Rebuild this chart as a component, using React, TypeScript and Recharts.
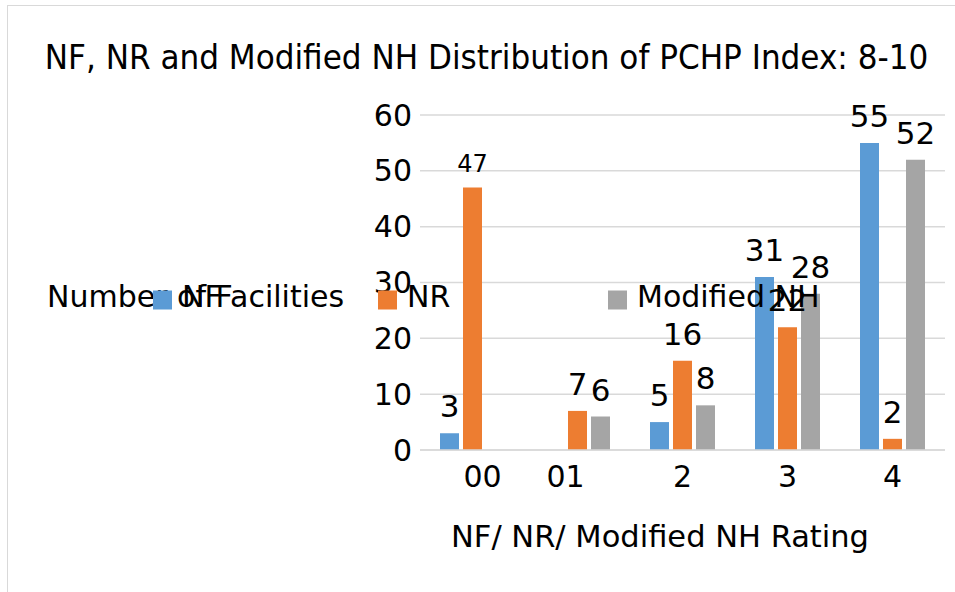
import React from "react";
import { BarChart, Bar, XAxis, YAxis, CartesianGrid, LabelList } from "recharts";

const title = "NF, NR and Modified NH Distribution of PCHP Index: 8-10";
const yAxisTitle = "Number of Facilities";
const xAxisTitle = "NF/ NR/ Modified NH Rating";
const categories = ["0", "1", "2", "3", "4"];
const tickLabels = ["00", "01", "2", "3", "4"];
const yTicks = [0, 10, 20, 30, 40, 50, 60];
const seriesNames = ["NF", "NR", "Modified NH"];
const nfValues = [3, null, 5, 31, 55];
const nrValues = [47, 7, 16, 22, 2];
const modNhValues = [null, 6, 8, 28, 52];

const COLORS = ["#5B9BD5", "#ED7D31", "#A5A5A5"];
const FONT = "'DejaVu Sans', sans-serif";
const TITLE_FONT = "'DejaVu Sans Condensed', 'DejaVu Sans', sans-serif";

const data = categories.map((c, i) => ({
  cat: c,
  tick: tickLabels[i],
  NF: nfValues[i],
  NR: nrValues[i],
  MNH: modNhValues[i],
}));

const TICK_DX = [10, -12, 0, 0, 0];

const XTick = (props: any) => {
  const { x, y, index } = props;
  return (
    <text
      x={x + (TICK_DX[index] || 0)}
      y={y + 29}
      textAnchor="middle"
      fontFamily={FONT}
      fontSize={30}
      fill="#000"
    >
      {tickLabels[index]}
    </text>
  );
};

const makeLabel = (seriesIdx: number) => (props: any) => {
  const { x, y, width, value, index } = props;
  if (value === null || value === undefined) return null;
  const small = seriesIdx === 1 && index === 0;
  return (
    <text
      x={Number(x) + Number(width) / 2}
      y={Number(y) - 16}
      textAnchor="middle"
      fontFamily={FONT}
      fontSize={small ? 24 : 31}
      fill="#000"
    >
      {value}
    </text>
  );
};

const legendX = [153, 378, 608];

export default function App() {
  return (
    <div
      style={{
        position: "absolute",
        left: 0,
        top: 0,
        width: 955,
        height: 592,
        overflow: "hidden",
        background: "#fff",
      }}
    >
      <div
        style={{
          position: "absolute",
          left: 7,
          top: 5,
          width: 948,
          height: 587,
          boxSizing: "border-box",
          borderTop: "1.5px solid #d9d9d9",
          borderLeft: "1.5px solid #d9d9d9",
        }}
      />
      <div style={{ position: "absolute", left: 0, top: 0 }}>
        <BarChart
          width={955}
          height={592}
          data={data}
          margin={{ top: 115, right: 10, bottom: 82, left: 360 }}
          barSize={19}
          barGap={4}
        >
          <CartesianGrid vertical={false} stroke="#d9d9d9" strokeWidth={1.5} />
          <XAxis
            dataKey="cat"
            height={60}
            axisLine={{ stroke: "#d9d9d9", strokeWidth: 1.5 }}
            tickLine={false}
            tick={<XTick />}
            interval={0}
          />
          <YAxis
            width={60}
            domain={[0, 60]}
            ticks={yTicks}
            axisLine={false}
            tickLine={false}
            tick={{ fontFamily: FONT, fontSize: 30, fill: "#000" }}
          />
          <Bar dataKey="NF" fill={COLORS[0]} isAnimationActive={false}>
            <LabelList dataKey="NF" content={makeLabel(0)} />
          </Bar>
          <Bar dataKey="NR" fill={COLORS[1]} isAnimationActive={false}>
            <LabelList dataKey="NR" content={makeLabel(1)} />
          </Bar>
          <Bar dataKey="MNH" fill={COLORS[2]} isAnimationActive={false}>
            <LabelList dataKey="MNH" content={makeLabel(2)} />
          </Bar>
        </BarChart>
      </div>
      <svg
        width={955}
        height={592}
        style={{ position: "absolute", left: 0, top: 0, pointerEvents: "none" }}
      >
        <text x={486.5} y={69} textAnchor="middle" fontFamily={TITLE_FONT} fontSize={34.6} fill="#000">
          {title}
        </text>
        <text x={47} y={307} fontFamily={FONT} fontSize={30} fill="#000">
          {yAxisTitle}
        </text>
        {seriesNames.map((n, i) => (
          <g key={n}>
            <rect x={legendX[i]} y={290.5} width={19} height={19} fill={COLORS[i]} />
            <text x={legendX[i] + 29} y={307} fontFamily={FONT} fontSize={30} fill="#000">
              {n}
            </text>
          </g>
        ))}
        <text x={660} y={547} textAnchor="middle" fontFamily={FONT} fontSize={30.5} fill="#000">
          {xAxisTitle}
        </text>
      </svg>
    </div>
  );
}
